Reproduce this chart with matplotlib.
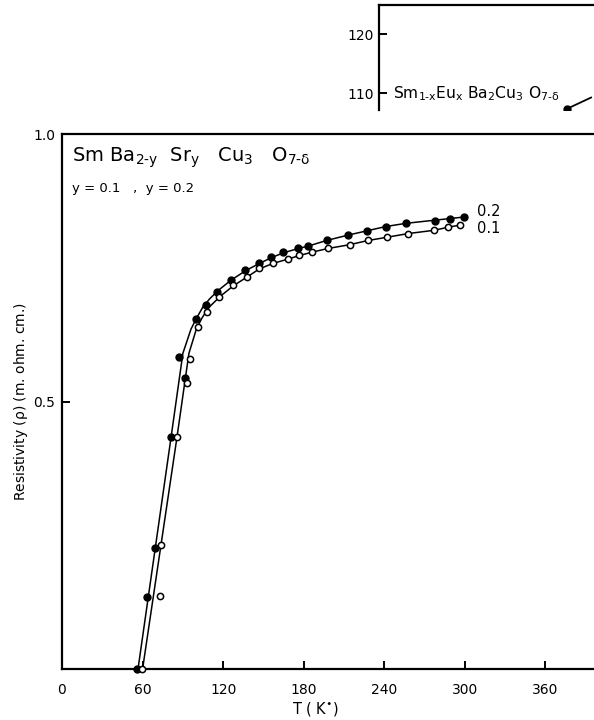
import matplotlib
matplotlib.use("Agg")
import matplotlib.pyplot as plt

plt.rcParams['font.family'] = ['DejaVu Sans']
plt.rcParams['mathtext.default'] = 'regular'

# ---- data ----
# y = 0.2 (filled circles)
T_02 = [55.6, 63.5, 69.2, 81.2, 87.1, 91.6, 99.8, 107.2, 115.6, 125.6, 136.3, 146.7,
        155.6, 164.8, 176, 183.4, 197, 213.2, 226.9, 241, 256, 277.7, 289, 299.6]
R_02 = [0.0, 0.134, 0.227, 0.433, 0.583, 0.544, 0.654, 0.680, 0.705, 0.727, 0.746, 0.758,
        0.770, 0.779, 0.786, 0.791, 0.802, 0.811, 0.819, 0.827, 0.833, 0.838, 0.841, 0.845]
# y = 0.1 (open circles)
T_01 = [59.3, 73, 74, 85.9, 93, 95, 101, 108, 117, 127.6, 137.5, 146.9,
        157.3, 168, 176.7, 186.4, 198.3, 214.4, 227.6, 241.7, 257.9, 277.2, 287.7, 296.4]
R_01 = [0.0, 0.136, 0.231, 0.433, 0.535, 0.58, 0.64, 0.668, 0.696, 0.718, 0.733, 0.749,
        0.758, 0.766, 0.774, 0.779, 0.786, 0.793, 0.801, 0.807, 0.814, 0.820, 0.827, 0.830]
# drawn guide curves
CT_02 = [56.6, 81.2, 90, 96, 100, 105, 110, 116, 126, 137, 147, 156, 165, 176, 184,
         197, 213, 227, 241, 256, 278, 289, 300]
CR_02 = [0, 0.433, 0.59, 0.635, 0.655, 0.677, 0.692, 0.707, 0.727, 0.745, 0.758, 0.769,
         0.778, 0.786, 0.791, 0.801, 0.811, 0.819, 0.827, 0.833, 0.839, 0.842, 0.845]
CT_01 = [60, 85.6, 94.5, 100, 104, 109, 118, 128, 138, 147, 157, 168, 177, 186, 198,
         214, 228, 242, 258, 277, 288, 297]
CR_01 = [0, 0.433, 0.59, 0.635, 0.655, 0.675, 0.697, 0.717, 0.733, 0.748, 0.758, 0.766,
         0.773, 0.779, 0.786, 0.793, 0.801, 0.807, 0.814, 0.820, 0.826, 0.830]

x_ticks = [0, 60, 120, 180, 240, 300, 360]
y_ticks = [0.5, 1.0]
y_ticklabels = ['0.5', '1.0']

# inset (partial figure at top)
inset_ticks = [110, 120]
inset_line_x = [78, 88]
inset_line_y = [107.4, 109.3]

HY = '\u2010'  # short hyphen for formulas

W, H = 594, 720
fig = plt.figure(figsize=(W / 100, H / 100), dpi=100)

# ---- main axes ----
x0, x1 = 62, 62 + 420 * 1.343
y_top, y_bot = 134, 669
ax = fig.add_axes([x0 / W, 1 - y_bot / H, (x1 - x0) / W, (y_bot - y_top) / H])
ax.set_xlim(0, 420)
ax.set_ylim(0, 1.0)

ax.plot(CT_02, CR_02, color='black', lw=1.1, zorder=2)
ax.plot(CT_01, CR_01, color='black', lw=1.1, zorder=2)
ax.plot(T_02, R_02, 'o', ms=5, mfc='black', mec='black', zorder=3, clip_on=False)
ax.plot(T_01, R_01, 'o', ms=4.5, mfc='white', mec='black', mew=1.1, zorder=3, clip_on=False)

for s in ax.spines.values():
    s.set_linewidth(1.6)
ax.set_xticks(x_ticks)
ax.set_xticklabels([str(v) for v in x_ticks])
ax.set_yticks(y_ticks)
ax.set_yticklabels(y_ticklabels)
ax.tick_params(direction='in', length=6, width=1.4, labelsize=10)
ax.tick_params(axis='x', pad=10)
ax.tick_params(axis='y', pad=5)

ax.set_xlabel(r'T ( K$^{\bullet}$)', fontsize=10.5)
ax.xaxis.set_label_coords((315 - x0) / (x1 - x0), (y_bot - 700) / (y_bot - y_top))
ax.set_ylabel(r'Resistivity ($\rho$) (m. ohm. cm.)', fontsize=10)
ax.yaxis.set_label_coords((30 - x0) / (x1 - x0), 0.5)

ax.text(0.018, 0.955,
        r'Sm Ba$_{2%sy}$  Sr$_{y}$   Cu$_{3}$   O$_{7%s\delta}$' % (HY, HY),
        transform=ax.transAxes, fontsize=14, ha='left', va='center')
ax.text(0.018, 0.899, 'y = 0.1   ,  y = 0.2', transform=ax.transAxes,
        fontsize=9.5, ha='left', va='center')

ax.text(309, 0.855, '0.2', fontsize=10.5, ha='left', va='center')
ax.text(309, 0.824, '0.1', fontsize=10.5, ha='left', va='center')

# ---- partial inset axes at top ----
ix0, ix1 = 379, 620
iy_top, iy_bot = 5, 110
ax2 = fig.add_axes([ix0 / W, 1 - iy_bot / H, (ix1 - ix0) / W, (iy_bot - iy_top) / H])
ax2.set_xlim(0, 100)
ax2.set_ylim(107.2, 124.9)
ax2.spines['bottom'].set_visible(False)
ax2.spines['right'].set_visible(False)
for s in ('left', 'top'):
    ax2.spines[s].set_linewidth(1.6)
ax2.set_xticks([])
ax2.set_yticks(inset_ticks)
ax2.set_yticklabels([str(v) for v in inset_ticks])
ax2.tick_params(direction='in', length=6, width=1.4, labelsize=10, pad=4)
ax2.text(6, 110,
         r'Sm$_{1%sx}$Eu$_{x}$ Ba$_{2}$Cu$_{3}$ O$_{7%s\delta}$' % (HY, HY),
         fontsize=11.2, ha='left', va='center')
ax2.plot(inset_line_x, inset_line_y, color='black', lw=1.3)
ax2.plot(inset_line_x[:1], inset_line_y[:1], 'o', ms=5, color='black')

fig.savefig('out.png', dpi=100)
